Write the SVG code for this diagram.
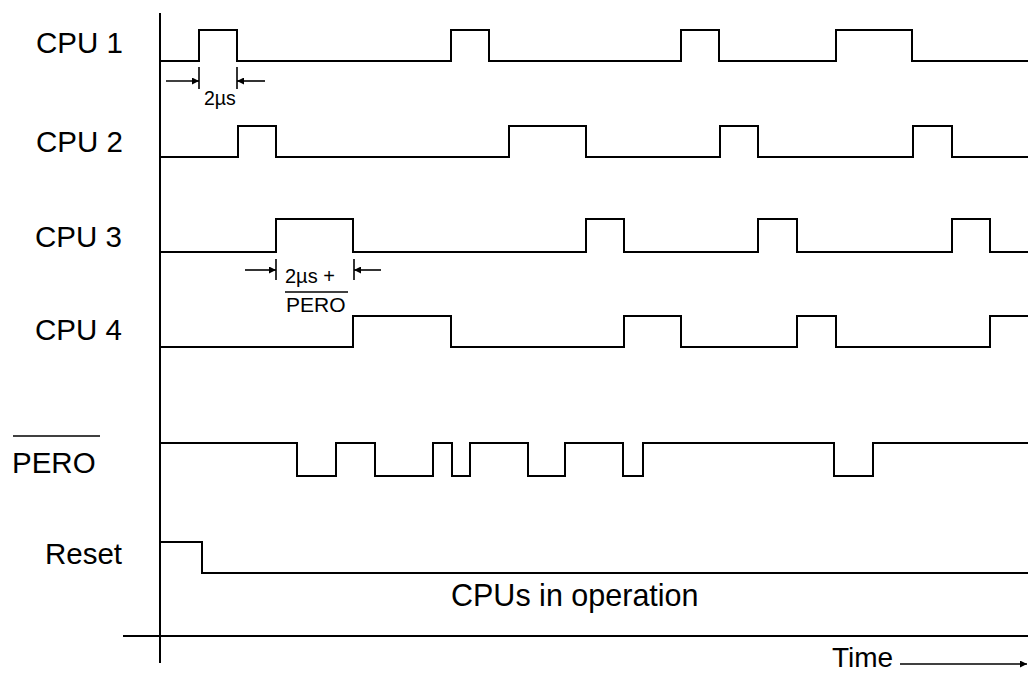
<svg xmlns="http://www.w3.org/2000/svg" width="1028" height="675" viewBox="0 0 1028 675">
<defs>
<marker id="ah" viewBox="0 0 10 10" refX="10" refY="5" markerWidth="8" markerHeight="7" markerUnits="userSpaceOnUse" orient="auto">
<path d="M0,0 L10,5 L0,10 z" fill="#000"/>
</marker>
</defs>
<style>
.w{fill:none;stroke:#000;stroke-width:2;stroke-linejoin:miter}
.l{fill:none;stroke:#000;stroke-width:1.6}
.lab{font-family:"Liberation Sans",Arial,sans-serif;font-size:29.5px;fill:#000}
.sm{font-family:"Liberation Sans",Arial,sans-serif;font-size:19.5px;fill:#000}
</style>
<rect width="1028" height="675" fill="#fff"/>
<g id="axes">
<line class="w" x1="160" y1="13" x2="160" y2="663"/>
<line class="w" x1="123" y1="636" x2="1028" y2="636"/>
</g>
<g id="cpu1">
<text class="lab" x="36" y="53">CPU 1</text>
<path class="w" d="M160,61 H199 V30 H237 V61 H451 V30 H489 V61 H681 V30 H719 V61 H836 V30 H912 V61 H1028"/>
</g>
<g id="cpu2">
<text class="lab" x="36" y="152">CPU 2</text>
<path class="w" d="M160,157 H238 V126 H276 V157 H509 V126 H586 V157 H720 V126 H758 V157 H913 V126 H952 V157 H1028"/>
</g>
<g id="cpu3">
<text class="lab" x="35" y="247">CPU 3</text>
<path class="w" d="M160,252 H276 V219 H353 V252 H586 V219 H624 V252 H758 V219 H797 V252 H952 V219 H990 V252 H1028"/>
</g>
<g id="cpu4">
<text class="lab" x="35" y="340">CPU 4</text>
<path class="w" d="M160,347 H353 V316 H451 V347 H624 V316 H681 V347 H797 V316 H836 V347 H990 V316 H1028"/>
</g>
<g id="pero">
<line class="l" x1="13" y1="436" x2="100" y2="436"/>
<text class="lab" x="12" y="473">PERO</text>
<path class="w" d="M160,443 H297 V476 H336 V443 H375 V476 H433 V443 H452 V476 H470 V443 H528 V476 H565 V443 H623 V476 H643 V443 H834 V476 H873 V443 H1028"/>
</g>
<g id="reset">
<text class="lab" x="45" y="564">Reset</text>
<path class="w" d="M160,542 H202 V573 H1028"/>
</g>
<g id="op-label">
<text class="lab" x="451" y="606" style="font-size:30.5px">CPUs in operation</text>
</g>
<g id="time-label">
<text class="lab" x="832" y="667" style="font-size:28px">Time</text>
</g>
<g id="connectors">
<line class="l" x1="199" y1="67" x2="199" y2="89"/>
<line class="l" x1="237" y1="67" x2="237" y2="89"/>
<line class="l" x1="166" y1="81" x2="199" y2="81" marker-end="url(#ah)"/>
<line class="l" x1="265" y1="81" x2="237" y2="81" marker-end="url(#ah)"/>
<text class="sm" x="204" y="105">2µs</text>
<line class="l" x1="276" y1="259" x2="276" y2="280"/>
<line class="l" x1="354" y1="259" x2="354" y2="280"/>
<line class="l" x1="245" y1="270" x2="276" y2="270" marker-end="url(#ah)"/>
<line class="l" x1="381" y1="270" x2="354" y2="270" marker-end="url(#ah)"/>
<text class="sm" x="285" y="283" style="font-size:20px">2µs +</text>
<line class="l" x1="285" y1="292" x2="348" y2="292"/>
<text class="sm" x="286" y="312" style="font-size:21px">PERO</text>
<line class="l" x1="900" y1="664" x2="1027" y2="664" marker-end="url(#ah)"/>
</g>
</svg>
